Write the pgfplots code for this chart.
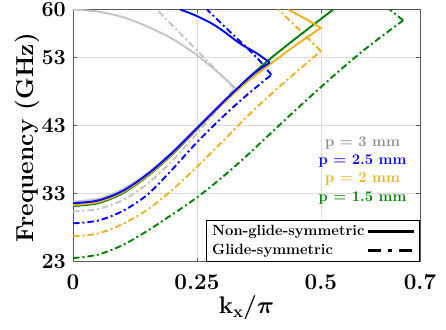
\RequirePackage{fix-cm}
\documentclass[border=0pt]{standalone}
\usepackage{fontspec}
\usepackage{pgfplots}
\pgfplotsset{compat=1.18}
\definecolor{cgray}{RGB}{195,195,195}
\definecolor{cgraytext}{RGB}{140,140,140}
\definecolor{cblue}{RGB}{0,0,255}
\definecolor{corange}{RGB}{237,177,32}
\definecolor{cgreen}{RGB}{0,128,0}
\pgfplotsset{
  ns/.style={line width=1.9pt, smooth},
  gs/.style={line width=1.9pt, smooth, dash pattern=on 6.5pt off 3pt on 2pt off 3pt},
}
\begin{document}
\begin{tikzpicture}
\path[use as bounding box] (-73pt,-67.5pt) rectangle (373pt,261.5pt);
\begin{axis}[
  scale only axis, width=347pt, height=252pt,
  xmin=0, xmax=0.7, ymin=23, ymax=60,
  xtick={0,0.25,0.5,0.7}, xticklabels={0,0.25,0.5,0.7},
  ytick={23,33,43,53,60}, yticklabels={23,33,43,53,60},
  xticklabel style={font=\bfseries\fontsize{22.5}{22.5}\selectfont, anchor=north, inner sep=0pt, yshift=-13pt},
  yticklabel style={font=\bfseries\fontsize{21.5}{21.5}\selectfont, anchor=east, inner sep=0pt, xshift=-7pt},
  xlabel={$\mathbf{k_x}/\pi$},
  ylabel={\textbf{Frequency (GHz)}},
  xlabel style={font=\fontsize{24}{24}\selectfont\boldmath, at={(axis description cs:0.5,0)}, anchor=base, yshift=-52pt, inner sep=0pt},
  ylabel style={font=\fontsize{24.5}{24.5}\selectfont, at={(axis description cs:-0.1326,0.49)}, anchor=center, inner sep=0pt},
  grid=major, grid style={line width=0.7pt, draw=black!14},
  axis line style={draw=black!65, line width=0.7pt},
  tick align=inside, major tick length=4pt,
  every tick/.style={draw=black!65, line width=0.6pt},
  legend style={at={(rel axis cs:1,0)}, anchor=south east, draw=black, line width=0.8pt, fill=white,
    font=\bfseries\fontsize{14.8}{16}\selectfont, inner xsep=4pt, inner ysep=3pt, row sep=3pt,
    /tikz/every even column/.append style={column sep=1pt}},
  legend cell align=left, legend plot pos=right,
  legend image code/.code={\draw[#1] (0pt,0pt) -- (46pt,0pt);},
]
% p = 3 mm (gray)
\addplot[ns, cgray, forget plot] coordinates {(0,31.8)(0.05,32.2)(0.1,33.6)(0.15,36.0)(0.2,39.1)(0.25,42.7)(0.3,46.3)(0.33,48.3)};
\addplot[ns, cgray, forget plot] coordinates {(0.33,48.3)(0.3,50.3)(0.25,53.3)(0.2,55.7)(0.15,57.5)(0.1,58.9)(0.05,59.7)(0,60)};
\addplot[gs, cgray, forget plot] coordinates {(0,30.35)(0.05,30.7)(0.1,32.0)(0.15,34.4)(0.2,37.8)(0.25,41.8)(0.29,45.2)(0.325,48.4)};
\addplot[gs, cgray, forget plot] coordinates {(0.325,48.4)(0.25,54.0)(0.169,60)};
% p = 2 mm (orange)
\addplot[gs, corange, forget plot] coordinates {(0,26.7)(0.05,27.1)(0.1,28.5)(0.15,30.6)(0.2,33.5)(0.25,36.9)(0.3,40.5)(0.35,44.2)(0.4,47.6)(0.45,50.8)(0.5,53.9)};
\addplot[gs, corange, forget plot] coordinates {(0.5,53.9)(0.457,57.0)(0.414,60)};
% p = 1.5 mm (green)
\addplot[gs, cgreen, forget plot] coordinates {(0,23.5)(0.05,24.0)(0.1,25.4)(0.15,27.5)(0.2,29.9)(0.25,32.4)(0.3,35.3)(0.35,38.5)(0.4,41.9)(0.45,45.3)(0.5,48.6)(0.55,51.8)(0.6,54.8)(0.666,58.4)};
\addplot[gs, cgreen, forget plot] coordinates {(0.666,58.4)(0.639,60)};
% p = 2.5 mm dashed (blue)
\addplot[gs, cblue, forget plot] coordinates {(0,28.6)(0.05,29.0)(0.1,30.4)(0.15,32.8)(0.2,36.5)(0.25,40.5)(0.3,44.1)(0.35,47.4)(0.4,50.4)};
\addplot[gs, cblue, forget plot] coordinates {(0.4,50.4)(0.37,53.0)(0.323,56.3)(0.27,60)};
% solids
\addplot[ns, cgreen, forget plot] coordinates {(0,31.15)(0.05,31.55)(0.1,33.0)(0.15,35.5)(0.2,38.7)(0.25,42.4)(0.3,46.1)(0.35,49.7)(0.4,52.9)(0.45,55.8)(0.5,58.6)(0.525,60)};
\addplot[ns, corange, forget plot] coordinates {(0,31.3)(0.05,31.7)(0.1,33.15)(0.15,35.6)(0.2,38.8)(0.25,42.4)(0.3,46.0)(0.35,49.3)(0.4,52.1)(0.45,54.8)(0.5,57.3)};
\addplot[ns, corange, forget plot] coordinates {(0.5,57.3)(0.467,58.7)(0.434,60)};
\addplot[ns, cblue, forget plot] coordinates {(0,31.55)(0.05,31.95)(0.1,33.35)(0.15,35.8)(0.2,38.95)(0.25,42.55)(0.3,46.2)(0.33,48.3)(0.36,50.3)(0.38,51.4)(0.397,52.2)};
\addplot[ns, cblue, forget plot] coordinates {(0.397,52.2)(0.37,53.6)(0.337,55.0)(0.3,57.0)(0.276,58.1)(0.245,59.2)(0.216,60.0)};
% labels
\node[anchor=base, text=cgraytext, font=\bfseries\fontsize{14.8}{16}\selectfont] at (axis cs:0.584,39.92) {p = 3 mm};
\node[anchor=base, text=cblue, font=\bfseries\fontsize{14.8}{16}\selectfont] at (axis cs:0.584,37.21) {p = 2.5 mm};
\node[anchor=base, text=corange, font=\bfseries\fontsize{14.8}{16}\selectfont] at (axis cs:0.584,34.53) {p = 2 mm};
\node[anchor=base, text=cgreen, font=\bfseries\fontsize{14.8}{16}\selectfont] at (axis cs:0.584,31.84) {p = 1.5 mm};
% legend
\addlegendimage{black, line width=3.2pt}
\addlegendentry{Non-glide-symmetric}
\addlegendimage{black, line width=3.2pt, dash pattern=on 13pt off 7pt on 4pt off 7pt}
\addlegendentry{Glide-symmetric}
\end{axis}
\end{tikzpicture}
\end{document}
